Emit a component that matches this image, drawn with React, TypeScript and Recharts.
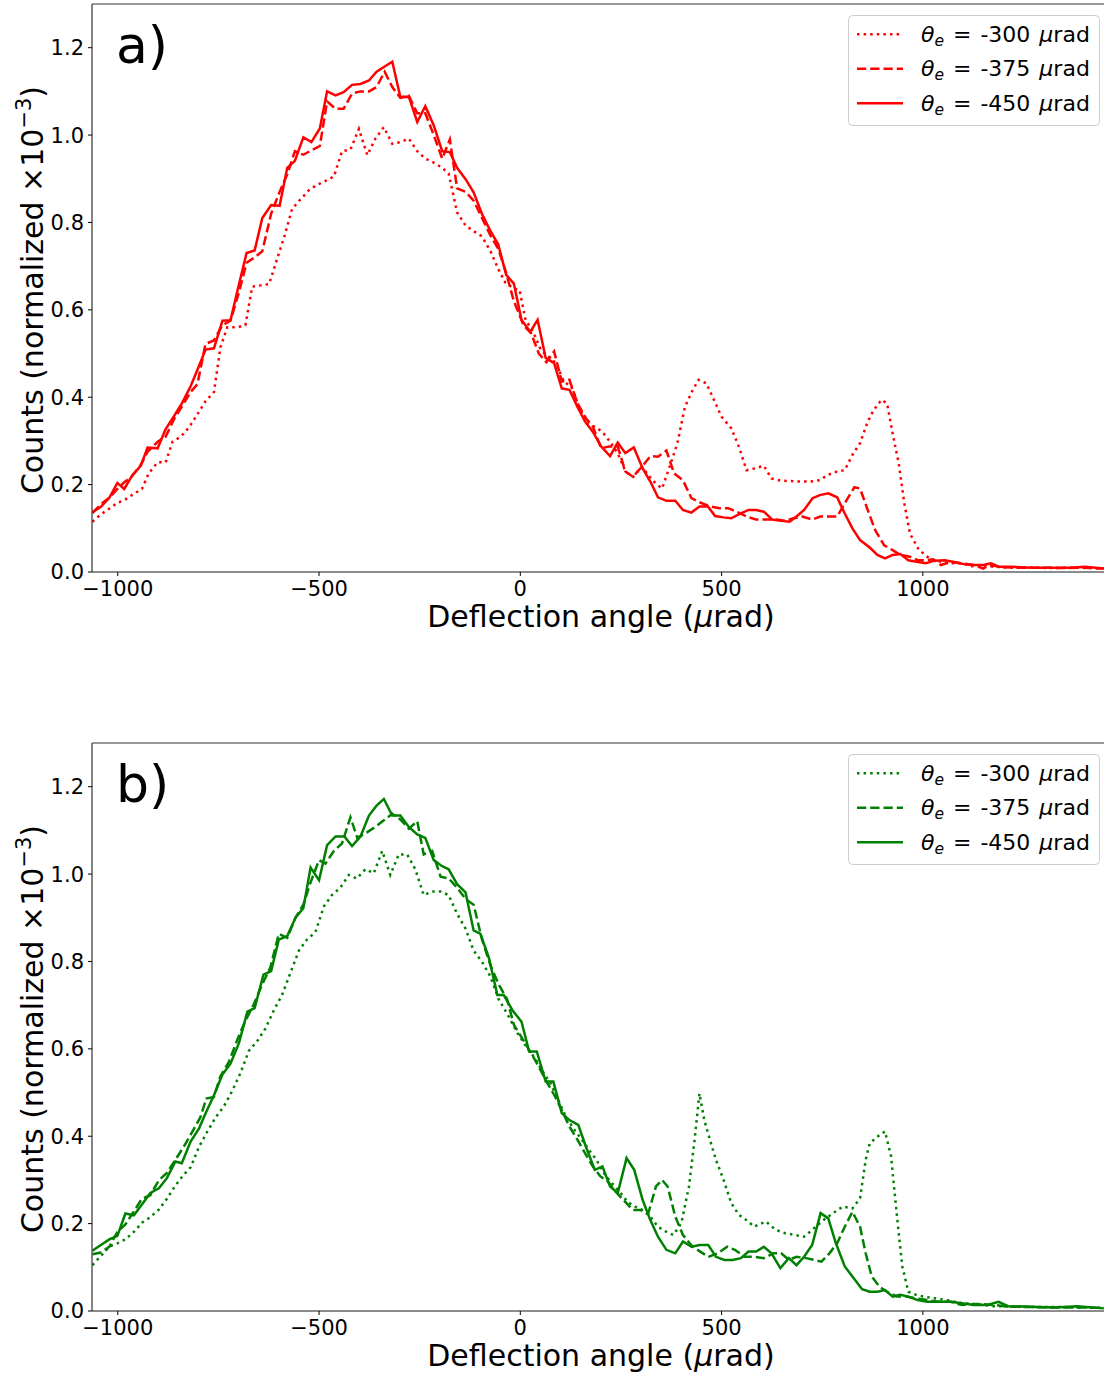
import React from 'react';
import { LineChart, Line, XAxis, YAxis, ReferenceLine, Label } from 'recharts';

// ---------- data: [deflection angle (µrad), counts (normalized ×10^-3)] ----------
const redDotted: [number, number][] = [
  [-1063,0.115],[-1042,0.132],[-1021,0.145],[-1001,0.158],[-981,0.166],[-960,0.179],[-940,0.19],[-923,0.226],[-901,0.251],[-881,0.251],
  [-864,0.298],[-843,0.31],[-823,0.331],[-802,0.361],[-782,0.391],[-761,0.412],[-745,0.514],[-728,0.56],[-703,0.56],[-683,0.565],
  [-666,0.653],[-645,0.656],[-624,0.659],[-604,0.717],[-586,0.768],[-567,0.831],[-546,0.853],[-525,0.874],[-505,0.886],[-484,0.895],
  [-463,0.905],[-443,0.963],[-422,0.967],[-401,1.014],[-380,0.954],[-360,0.992],[-339,1.018],[-318,0.98],[-298,0.984],[-277,0.992],
  [-256,0.963],[-236,0.946],[-215,0.937],[-194,0.925],[-178,0.912],[-157,0.823],[-136,0.793],[-116,0.78],[-95,0.768],[-74,0.734],
  [-54,0.692],[-37,0.662],[-16,0.649],[-2,0.646],[13,0.577],[32,0.55],[51,0.508],[70,0.493],[89,0.478],[108,0.436],
  [127,0.424],[146,0.378],[165,0.34],[184,0.333],[204,0.321],[223,0.298],[242,0.272],[261,0.23],[280,0.218],[302,0.241],
  [328,0.21],[352,0.191],[371,0.241],[390,0.294],[409,0.378],[428,0.416],[443,0.44],[462,0.432],[481,0.394],[500,0.355],
  [524,0.329],[543,0.287],[562,0.233],[581,0.237],[605,0.243],[624,0.214],[648,0.209],[672,0.208],[696,0.207],[720,0.207],
  [744,0.21],[763,0.222],[787,0.23],[806,0.233],[825,0.268],[844,0.295],[863,0.344],[878,0.371],[897,0.394],[911,0.386],
  [925,0.317],[940,0.249],[954,0.157],[968,0.088],[988,0.054],[1007,0.037],[1026,0.027],[1050,0.023],[1074,0.02],[1097,0.02],
  [1121,0.013],[1150,0.016],[1174,0.012],[1220,0.01],[1270,0.01],[1320,0.009],[1370,0.01],[1420,0.009],[1449,0.008],
];

const redDashed: [number, number][] = [
  [-1063,0.135],[-1042,0.155],[-1021,0.17],[-1001,0.19],[-984,0.205],[-964,0.22],[-943,0.245],[-926,0.275],[-901,0.298],[-881,0.31],
  [-860,0.35],[-840,0.38],[-819,0.412],[-802,0.43],[-782,0.522],[-761,0.53],[-740,0.565],[-720,0.575],[-699,0.64],[-680,0.708],
  [-660,0.72],[-641,0.734],[-619,0.82],[-598,0.87],[-579,0.91],[-560,0.963],[-539,0.955],[-519,0.965],[-498,0.975],[-480,1.077],
  [-459,1.06],[-439,1.06],[-418,1.095],[-397,1.1],[-376,1.1],[-357,1.11],[-337,1.145],[-318,1.11],[-298,1.085],[-277,1.09],
  [-256,1.05],[-236,1.05],[-215,1.0],[-194,0.946],[-175,0.99],[-157,0.878],[-136,0.87],[-116,0.85],[-95,0.81],[-74,0.77],
  [-55,0.74],[-37,0.69],[-16,0.62],[8,0.565],[27,0.546],[46,0.5],[65,0.48],[84,0.505],[103,0.436],[122,0.44],
  [142,0.386],[163,0.352],[180,0.333],[201,0.283],[220,0.287],[242,0.287],[261,0.23],[280,0.218],[302,0.241],[323,0.265],
  [342,0.264],[363,0.278],[382,0.226],[404,0.21],[425,0.169],[447,0.159],[471,0.15],[495,0.146],[516,0.146],[538,0.138],
  [562,0.127],[586,0.12],[610,0.12],[634,0.12],[658,0.117],[679,0.123],[701,0.127],[725,0.12],[745,0.127],[768,0.127],
  [787,0.127],[811,0.165],[830,0.194],[844,0.191],[863,0.142],[882,0.095],[904,0.061],[925,0.05],[944,0.039],[968,0.035],
  [988,0.027],[1007,0.027],[1026,0.029],[1045,0.016],[1069,0.023],[1097,0.02],[1126,0.016],[1150,0.008],[1164,0.016],[1200,0.011],
  [1250,0.01],[1300,0.01],[1350,0.009],[1400,0.01],[1449,0.008],
];

const redSolid: [number, number][] = [
  [-1063,0.137],[-1042,0.149],[-1021,0.17],[-1001,0.204],[-984,0.19],[-964,0.221],[-943,0.243],[-926,0.285],[-901,0.283],[-881,0.327],
  [-860,0.357],[-840,0.387],[-819,0.425],[-802,0.463],[-782,0.509],[-761,0.512],[-740,0.575],[-720,0.576],[-699,0.658],[-680,0.73],
  [-660,0.736],[-641,0.81],[-619,0.84],[-598,0.838],[-579,0.925],[-560,0.941],[-539,0.995],[-519,0.984],[-498,1.015],[-480,1.1],
  [-459,1.091],[-439,1.098],[-418,1.115],[-397,1.117],[-376,1.125],[-357,1.145],[-337,1.157],[-318,1.168],[-298,1.087],[-277,1.088],
  [-256,1.03],[-236,1.066],[-215,1.022],[-194,0.963],[-175,0.961],[-157,0.925],[-136,0.899],[-116,0.869],[-95,0.819],[-74,0.78],
  [-55,0.75],[-35,0.68],[-16,0.66],[3,0.577],[25,0.55],[43,0.577],[63,0.49],[84,0.478],[103,0.42],[122,0.417],
  [142,0.378],[161,0.344],[180,0.321],[201,0.287],[223,0.265],[242,0.296],[261,0.272],[282,0.285],[304,0.237],[323,0.207],
  [342,0.171],[363,0.163],[385,0.163],[404,0.142],[425,0.136],[445,0.15],[466,0.15],[484,0.128],[505,0.125],[524,0.123],
  [545,0.133],[567,0.142],[586,0.142],[605,0.138],[626,0.12],[648,0.117],[669,0.115],[686,0.127],[705,0.142],[726,0.169],
  [744,0.176],[765,0.18],[787,0.171],[806,0.134],[825,0.1],[844,0.073],[868,0.056],[887,0.039],[906,0.031],[925,0.039],
  [944,0.041],[964,0.027],[988,0.023],[1007,0.02],[1030,0.026],[1054,0.027],[1078,0.023],[1102,0.018],[1126,0.016],[1150,0.016],
  [1169,0.02],[1188,0.012],[1222,0.012],[1269,0.01],[1317,0.01],[1365,0.01],[1403,0.012],[1449,0.008],
];

const greenDotted: [number, number][] = [
  [-1063,0.105],[-1042,0.126],[-1021,0.147],[-1001,0.155],[-981,0.164],[-960,0.181],[-940,0.202],[-919,0.215],[-898,0.232],[-878,0.257],
  [-857,0.287],[-836,0.312],[-819,0.329],[-798,0.376],[-778,0.41],[-757,0.443],[-736,0.469],[-716,0.503],[-695,0.545],[-674,0.596],
  [-654,0.617],[-633,0.647],[-612,0.689],[-592,0.723],[-571,0.774],[-550,0.825],[-530,0.85],[-509,0.867],[-488,0.926],[-468,0.952],
  [-447,0.969],[-426,0.998],[-406,0.99],[-385,1.011],[-364,1.002],[-343,1.053],[-323,0.998],[-302,1.045],[-281,1.045],[-261,1.011],
  [-240,0.952],[-219,0.96],[-198,0.96],[-178,0.952],[-157,0.909],[-136,0.875],[-116,0.825],[-95,0.799],[-74,0.765],[-54,0.714],
  [-33,0.681],[-7,0.636],[17,0.602],[36,0.579],[56,0.548],[75,0.521],[94,0.483],[113,0.445],[132,0.418],[151,0.395],
  [170,0.369],[189,0.346],[208,0.315],[228,0.292],[247,0.273],[266,0.25],[285,0.239],[304,0.231],[323,0.216],[342,0.193],
  [361,0.182],[380,0.174],[400,0.201],[419,0.285],[433,0.392],[445,0.498],[457,0.437],[471,0.392],[486,0.346],[505,0.3],
  [524,0.247],[543,0.22],[562,0.208],[581,0.193],[610,0.205],[634,0.186],[658,0.178],[682,0.174],[705,0.17],[729,0.189],
  [753,0.208],[777,0.224],[801,0.239],[825,0.235],[844,0.258],[858,0.346],[868,0.384],[887,0.399],[906,0.411],[921,0.354],
  [930,0.27],[940,0.178],[949,0.102],[964,0.044],[983,0.037],[1002,0.033],[1030,0.029],[1059,0.025],[1097,0.018],[1136,0.016],
  [1174,0.011],[1230,0.01],[1290,0.009],[1350,0.009],[1400,0.008],[1449,0.007],
];

const greenDashed: [number, number][] = [
  [-1063,0.13],[-1042,0.134],[-1021,0.147],[-1001,0.181],[-981,0.198],[-960,0.228],[-940,0.257],[-919,0.265],[-898,0.299],[-878,0.316],
  [-857,0.346],[-836,0.376],[-815,0.41],[-795,0.443],[-780,0.486],[-761,0.49],[-745,0.537],[-724,0.57],[-703,0.621],[-683,0.664],
  [-662,0.702],[-641,0.748],[-621,0.786],[-600,0.863],[-579,0.854],[-558,0.901],[-539,0.93],[-521,0.981],[-500,1.032],[-484,1.024],
  [-463,1.053],[-443,1.07],[-422,1.13],[-405,1.083],[-380,1.096],[-360,1.108],[-339,1.123],[-318,1.138],[-298,1.125],[-277,1.104],
  [-256,1.121],[-240,1.045],[-219,1.053],[-198,0.994],[-178,0.99],[-157,0.969],[-136,0.943],[-116,0.93],[-95,0.85],[-74,0.791],
  [-54,0.748],[-33,0.714],[-16,0.655],[4,0.625],[27,0.59],[46,0.559],[65,0.525],[84,0.495],[103,0.46],[122,0.422],
  [142,0.392],[161,0.361],[180,0.331],[199,0.308],[218,0.296],[237,0.273],[256,0.254],[280,0.231],[299,0.231],[318,0.224],
  [337,0.285],[352,0.3],[366,0.285],[385,0.216],[404,0.174],[428,0.147],[447,0.136],[467,0.124],[490,0.132],[514,0.147],
  [533,0.14],[557,0.124],[581,0.124],[605,0.121],[629,0.132],[648,0.132],[667,0.117],[686,0.124],[710,0.121],[729,0.117],
  [748,0.113],[768,0.132],[787,0.155],[806,0.193],[825,0.227],[844,0.193],[858,0.132],[873,0.079],[892,0.056],[911,0.044],
  [935,0.033],[959,0.033],[983,0.029],[1011,0.025],[1040,0.021],[1069,0.021],[1097,0.014],[1136,0.016],[1174,0.014],[1212,0.01],
  [1270,0.009],[1330,0.008],[1390,0.008],[1449,0.007],
];

const greenSolid: [number, number][] = [
  [-1063,0.138],[-1042,0.151],[-1021,0.164],[-1001,0.172],[-981,0.223],[-960,0.219],[-940,0.244],[-919,0.27],[-898,0.281],[-878,0.304],
  [-857,0.342],[-841,0.338],[-819,0.388],[-798,0.418],[-782,0.452],[-761,0.494],[-740,0.541],[-720,0.566],[-699,0.613],[-678,0.685],
  [-660,0.693],[-638,0.77],[-619,0.778],[-600,0.85],[-579,0.858],[-558,0.901],[-539,0.922],[-521,1.015],[-500,0.986],[-480,1.066],
  [-459,1.086],[-437,1.086],[-418,1.064],[-397,1.086],[-376,1.134],[-357,1.157],[-339,1.172],[-318,1.134],[-298,1.134],[-277,1.108],
  [-256,1.091],[-236,1.083],[-215,1.032],[-196,1.019],[-178,1.011],[-157,0.977],[-136,0.958],[-116,0.871],[-99,0.863],[-78,0.808],
  [-57,0.723],[-41,0.723],[-20,0.689],[3,0.662],[22,0.594],[41,0.594],[63,0.525],[82,0.525],[103,0.453],[122,0.437],
  [144,0.426],[163,0.376],[185,0.323],[204,0.331],[223,0.285],[242,0.27],[264,0.35],[283,0.323],[304,0.254],[323,0.208],
  [342,0.17],[363,0.14],[385,0.132],[404,0.159],[425,0.147],[445,0.151],[467,0.151],[486,0.124],[507,0.117],[527,0.117],
  [548,0.121],[567,0.136],[586,0.136],[605,0.147],[624,0.132],[646,0.098],[667,0.121],[686,0.105],[705,0.124],[725,0.151],
  [746,0.224],[765,0.212],[784,0.155],[806,0.102],[825,0.079],[849,0.05],[868,0.044],[887,0.044],[906,0.048],[925,0.033],
  [944,0.037],[964,0.033],[987,0.025],[1011,0.021],[1040,0.021],[1069,0.021],[1097,0.018],[1126,0.014],[1160,0.014],[1188,0.021],
  [1212,0.011],[1269,0.01],[1327,0.008],[1384,0.011],[1449,0.006],
];

const xTicks = [-1000, -500, 0, 500, 1000];
const yTicks = [0, 0.2, 0.4, 0.6, 0.8, 1.0, 1.2];
const legendLabels = ['-300', '-375', '-450'];
const panelLabels = ['a)', 'b)'];

const FONT = '"DejaVu Sans", sans-serif';
const DOTTED = '2.5 4.1';
const DASHED = '9.25 4';
const LW = 2.5;

const toPts = (arr: [number, number][]) => arr.map(([x, y]) => ({ x, y }));

function Overlay({ color, label }: { color: string; label: string }) {
  const styles = [DOTTED, DASHED, undefined];
  return (
    <svg width={1104} height={640} style={{ position: 'absolute', left: 0, top: 0, pointerEvents: 'none' }}>
      <text x={116} y={63} fontFamily={FONT} fontSize={52} fill="#000">{label}</text>
      <rect x={848.5} y={15.5} width={251} height={110} rx={4} ry={4} fill="#fff" fillOpacity={0.8} stroke="#cccccc" strokeWidth={1} />
      {legendLabels.map((lab, i) => {
        const base = 41.7 + i * 34.5;
        const ly = base - 7.5;
        return (
          <g key={lab}>
            <line x1={857} x2={903} y1={ly} y2={ly} stroke={color} strokeWidth={LW} strokeDasharray={styles[i]} />
            <text x={921} y={base} fontFamily={FONT} fontSize={22} fill="#000" wordSpacing={2}>
              <tspan fontStyle="italic">θ</tspan>
              <tspan fontStyle="italic" fontSize={15.5} dy={4}>e</tspan>
              <tspan dy={-4}>{' = ' + lab + ' '}</tspan>
              <tspan fontStyle="italic">μ</tspan>
              <tspan>rad</tspan>
            </text>
          </g>
        );
      })}
    </svg>
  );
}

function YLabel(props: any) {
  const vb = props.viewBox || { x: 0, y: 4, width: 92, height: 568 };
  const cx = 43;
  const cy = vb.y + vb.height / 2 + 2;
  return (
    <text
      x={cx} y={cy} transform={`rotate(-90, ${cx}, ${cy})`} textAnchor="middle"
      fontFamily={FONT} fontSize={30} fill="#000"
    >
      Counts (normalized ×10<tspan dy={-12} fontSize={21}>−3</tspan><tspan dy={12}>)</tspan>
    </text>
  );
}

function XLabel(props: any) {
  const vb = props.viewBox || { x: 92, y: 572, width: 1012, height: 68 };
  return (
    <text x={vb.x + vb.width / 2 + 3} y={vb.y + 55} textAnchor="middle" fontFamily={FONT} fontSize={30} fill="#000">
      Deflection angle (<tspan fontStyle="italic">μ</tspan>rad)
    </text>
  );
}

function Panel({ top, color, dotted, dashed, solid, label }: any) {
  return (
    <div style={{ position: 'absolute', left: 0, top, width: 1104, height: 640 }}>
      <LineChart width={1104} height={640} margin={{ top: 4, right: 0, bottom: 0, left: 0 }}>
        <XAxis
          type="number" dataKey="x" domain={[-1064, 1450]} allowDataOverflow ticks={xTicks}
          height={68} tickSize={4} tickMargin={5}
          axisLine={{ stroke: '#666', strokeWidth: 1.3 }}
          tickLine={{ stroke: '#000', strokeWidth: 1 }}
          tick={{ fill: '#000', fontSize: 21, fontFamily: FONT }}
          tickFormatter={(v: number) => (v < 0 ? '\u2212' + Math.abs(v) : String(v))}
        >
          <Label content={<XLabel />} />
        </XAxis>
        <YAxis
          type="number" domain={[0, 1.3]} allowDataOverflow ticks={yTicks} width={92}
          tickSize={4} tickMargin={4}
          axisLine={{ stroke: '#333', strokeWidth: 1.2 }}
          tickLine={{ stroke: '#000', strokeWidth: 1 }}
          tick={{ fill: '#000', fontSize: 21, fontFamily: FONT }}
          tickFormatter={(v: number) => v.toFixed(1)}
        >
          <Label content={<YLabel />} />
        </YAxis>
        <ReferenceLine y={1.3} stroke="#333" strokeWidth={1.2} />
        <Line data={toPts(dotted)} dataKey="y" type="linear" stroke={color} strokeWidth={LW}
          strokeDasharray={DOTTED} dot={false} activeDot={false} isAnimationActive={false} />
        <Line data={toPts(dashed)} dataKey="y" type="linear" stroke={color} strokeWidth={LW}
          strokeDasharray={DASHED} dot={false} activeDot={false} isAnimationActive={false} />
        <Line data={toPts(solid)} dataKey="y" type="linear" stroke={color} strokeWidth={LW}
          dot={false} activeDot={false} isAnimationActive={false} />
      </LineChart>
      <Overlay color={color} label={label} />
    </div>
  );
}

export default function App() {
  return (
    <div style={{ position: 'absolute', left: 0, top: 0, width: 1104, height: 1378, background: '#fff', overflow: 'hidden' }}>
      <Panel top={0} color="#ff0000" dotted={redDotted} dashed={redDashed} solid={redSolid} label={panelLabels[0]} />
      <Panel top={739} color="#008000" dotted={greenDotted} dashed={greenDashed} solid={greenSolid} label={panelLabels[1]} />
    </div>
  );
}
